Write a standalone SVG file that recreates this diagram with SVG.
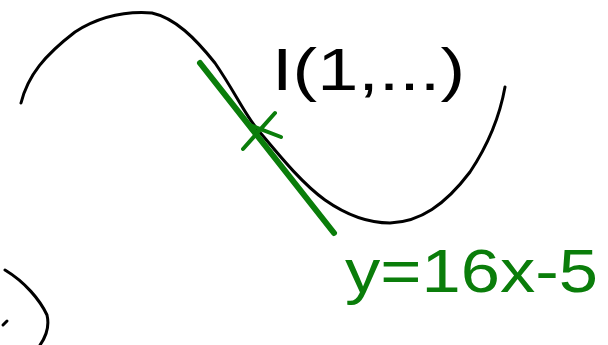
<svg xmlns="http://www.w3.org/2000/svg" width="608" height="345" viewBox="0 0 608 345">
<style>
.ink{fill:none;stroke:#000;stroke-width:3;stroke-linecap:round;stroke-linejoin:round}
.grn{fill:none;stroke:#0a7d0a;stroke-linecap:round;stroke-linejoin:round}
.lbl{font-family:"Liberation Sans","DejaVu Sans",sans-serif;font-weight:normal}
</style>
<rect width="608" height="345" fill="#fff"/>
<g id="curve">
<path class="ink" d="M21,103 C28,75 45,55 75,32 C100,16 125,11 152,13 C175,18 195,38 215,63 C235,92 245,115 258,130 C275,150 300,182 325,200 C345,214 365,223 390,223 C420,222 445,205 470,172 C490,142 500,115 505,87"/>
<path class="ink" d="M5,270 C25,282 40,300 47,315 C50,328 45,338 40,345"/>
<path class="ink" d="M3,325 L7,321"/>
</g>
<g id="tangent">
<path class="grn" stroke-width="6" d="M200,63 L334,233"/>
<path class="grn" stroke-width="4" d="M243,149 L275,113 M250,125 L281,137"/>
</g>
<g id="label-I">
<text class="lbl" x="272" y="90" font-size="60" textLength="193" lengthAdjust="spacingAndGlyphs" fill="#000">I(1,...)</text>
</g>
<g id="label-eq">
<text class="lbl" x="345" y="292" font-size="62" textLength="253" lengthAdjust="spacingAndGlyphs" fill="#0a7d0a">y=16x-5</text>
</g>
</svg>
